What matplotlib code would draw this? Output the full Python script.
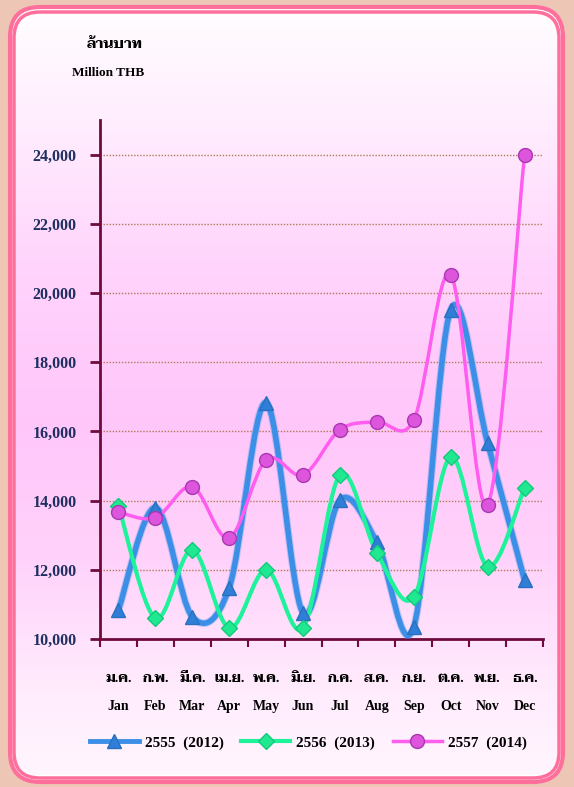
import numpy as np
import matplotlib
matplotlib.use("Agg")
import matplotlib.pyplot as plt
from matplotlib.patches import FancyBboxPatch, PathPatch
from matplotlib.path import Path
from matplotlib.lines import Line2D

months_th = ["ม.ค.", "ก.พ.", "มี.ค.", "เม.ย.", "พ.ค.", "มิ.ย.",
             "ก.ค.", "ส.ค.", "ก.ย.", "ต.ค.", "พ.ย.", "ธ.ค."]
months_en = ["Jan", "Feb", "Mar", "Apr", "May", "Jun",
             "Jul", "Aug", "Sep", "Oct", "Nov", "Dec"]
series_names = ["2555  (2012)", "2556  (2013)", "2557  (2014)"]
y2555 = [10840, 13800, 10640, 11480, 16830, 10750, 14020, 12800, 10350, 19520, 15670, 11700]
y2556 = [13850, 10600, 12570, 10320, 12000, 10320, 14740, 12490, 11210, 15260, 12090, 14370]
y2557 = [13670, 13500, 14400, 12920, 15180, 14740, 16050, 16280, 16330, 20530, 13880, 24000]
yticks = [10000, 12000, 14000, 16000, 18000, 20000, 22000, 24000]

SERIF = ["Liberation Serif", "Taviraj", "Sarabun", "DejaVu Sans"]
W, H = 574, 787


def smooth_path(xs, ys):
    """Catmull-Rom style bezier path through the points."""
    p = np.column_stack([xs, ys]).astype(float)
    verts = [p[0]]
    codes = [Path.MOVETO]
    n = len(p)
    for i in range(n - 1):
        p0 = p[i - 1] if i > 0 else p[i]
        p3 = p[i + 2] if i + 2 < n else p[i + 1]
        c1 = p[i] + (p[i + 1] - p0) / 6.0
        c2 = p[i + 1] - (p3 - p[i]) / 6.0
        verts += [c1, c2, p[i + 1]]
        codes += [Path.CURVE4] * 3
    return Path(verts, codes)


fig = plt.figure(figsize=(W / 100, H / 100), dpi=100)
fig.patch.set_facecolor("#eec6b6")

# background with gradient inside rounded frame
bg = fig.add_axes([0, 0, 1, 1], zorder=-5)
bg.set_xlim(0, W)
bg.set_ylim(H, 0)
bg.axis("off")
stops_y = [0, 110, 260, 420, 560, 700, 787]
stops_c = [(255, 253, 255), (255, 238, 254), (255, 212, 252), (255, 198, 250),
           (255, 210, 251), (255, 236, 253), (255, 246, 254)]
yy = np.arange(H)
grad = np.zeros((H, 1, 3))
for k in range(3):
    grad[:, 0, k] = np.interp(yy, stops_y, [c[k] for c in stops_c]) / 255.0
frame = FancyBboxPatch((14, 12), 545, 766, boxstyle="round,pad=0,rounding_size=26",
                       facecolor="none", edgecolor="#ff6f9c", linewidth=2.5)
outer = FancyBboxPatch((10, 7), 553, 775, boxstyle="round,pad=0,rounding_size=30",
                       facecolor="white", edgecolor="#ff6f9c", linewidth=3)
bg.add_patch(outer)
im = bg.imshow(grad, extent=[14, 559, 778, 12], aspect="auto", zorder=2)
im.set_clip_path(frame)
bg.add_patch(frame)
frame.set_zorder(3)

bg.text(87, 45, "ล้านบาท", family=["Taviraj", "Sarabun", "DejaVu Sans"], fontsize=10.5,
        fontweight="bold", ha="left", va="center", color="black", zorder=5)
bg.text(72, 73, "Million THB", family=SERIF, fontsize=9.5, fontweight="bold",
        ha="left", va="center", color="black", zorder=5)

ax = fig.add_axes([100 / W, 1 - 639 / H, 443 / W, 519 / H])
ax.patch.set_alpha(0)
x = np.arange(len(months_en))
ax.set_xlim(-0.5, 11.5)
ax.set_ylim(10000, 25000)

for v in yticks[1:]:
    ax.axhline(v, color="#b07a55", linestyle=(0, (1, 1.2)), linewidth=1.0, zorder=1)

styles = [
    (y2555, "#3b8fe6", 4.0, "^", 10, "#2a6fc0", "#2f7fd8"),
    (y2556, "#1ef29a", 3.0, "D", 8.5, "#12c97c", "#20e890"),
    (y2557, "#ff5cf0", 2.5, "o", 10, "#a838b0", "#dd55dd"),
]
for vals, lc, lw, mk, ms, mec, mfc in styles:
    path = smooth_path(x, vals)
    if lw > 3.5:
        ax.add_patch(PathPatch(path, facecolor="none", edgecolor=lc, alpha=0.3,
                               linewidth=lw + 1.5, zorder=3, capstyle="round"))
    ax.add_patch(PathPatch(path, facecolor="none", edgecolor=lc, linewidth=lw,
                           zorder=4, capstyle="round", joinstyle="round"))
for vals, lc, lw, mk, ms, mec, mfc in styles:
    ax.plot(x, vals, linestyle="none", marker=mk, markersize=ms,
            markerfacecolor=mfc, markeredgecolor=mec, markeredgewidth=1, zorder=6)

for s in ["top", "right"]:
    ax.spines[s].set_visible(False)
for s in ["left", "bottom"]:
    ax.spines[s].set_color("#6e0a3c")
    ax.spines[s].set_linewidth(2)

ax.set_yticks(yticks)
ax.set_yticklabels([f"{v:,}" for v in yticks], family=SERIF, fontsize=11.5,
                   fontweight="bold", color="#1f2f60")
ax.tick_params(axis="y", length=7, width=2, color="#6e0a3c", pad=10)

ax.set_xticks(np.arange(-0.5, 12, 1))
ax.set_xticklabels([])
ax.tick_params(axis="x", which="major", length=6, width=1.5, color="#6e0a3c")
ax.set_xticks(x, minor=True)
ax.set_xticklabels([f"{t}\n{e}" for t, e in zip(months_th, months_en)], minor=True,
                   family=SERIF, fontsize=10, fontweight="bold", color="black",
                   linespacing=2.5)
ax.tick_params(axis="x", which="minor", length=0, pad=24)

handles = [Line2D([0], [0], color=lc, linewidth=min(lw, 3.5), marker=mk,
                  markersize=ms, markerfacecolor=mfc, markeredgecolor=mec)
           for vals, lc, lw, mk, ms, mec, mfc in styles]
fig.legend(handles, series_names, loc="center", bbox_to_anchor=(0.537, 1 - 743 / H),
           ncol=3, frameon=False, handlelength=3.2, columnspacing=1.15,
           handletextpad=0.4, prop={"family": SERIF, "weight": "bold", "size": 11})

fig.savefig("out.png", dpi=100)
